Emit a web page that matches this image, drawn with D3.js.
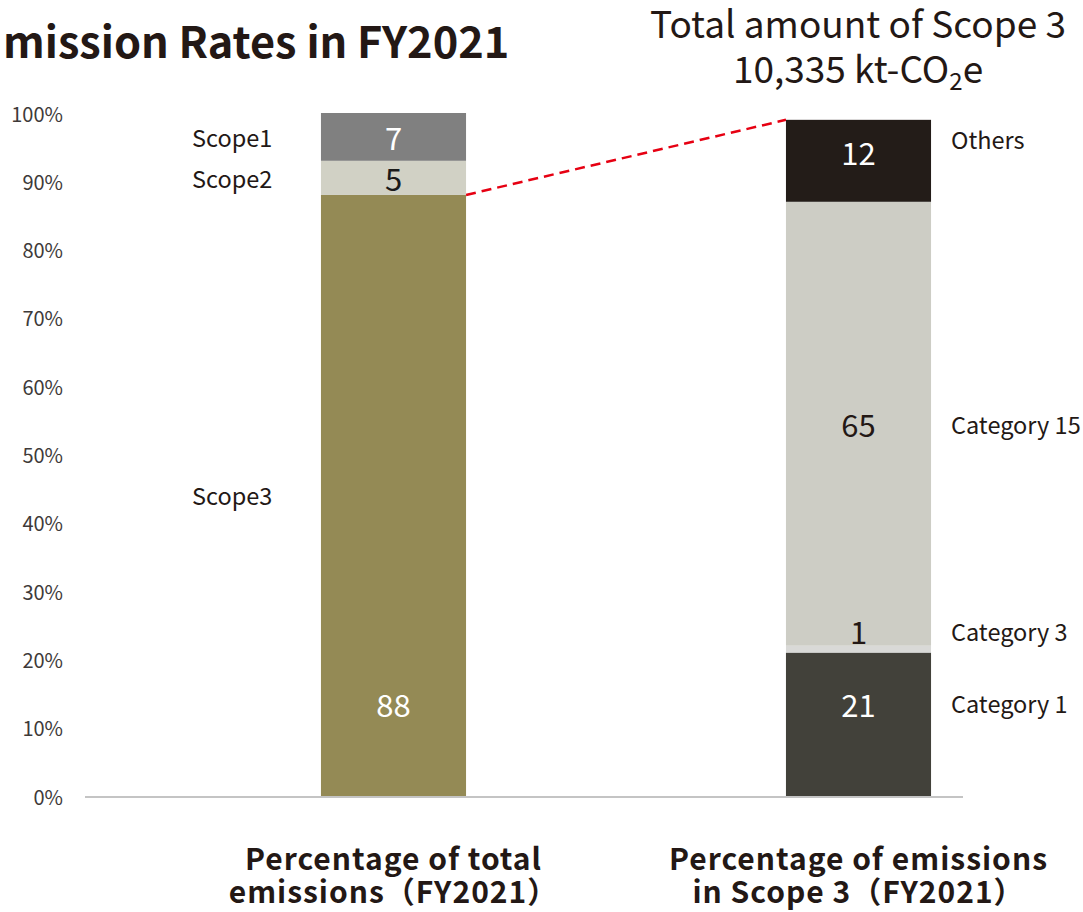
<!DOCTYPE html>
<html>
<head>
<meta charset="utf-8">
<script src="https://cdn.jsdelivr.net/npm/d3@7"></script>
<style>
  html, body { margin: 0; padding: 0; background: #fff; }
  svg { display: block; font-family: "Noto Sans CJK JP", "Noto Sans", sans-serif; }
</style>
</head>
<body>
<svg id="chart" width="1083" height="912"></svg>
<script>
// Emission shares, FY2021 (percent)
const bars = ["total", "scope3"];
const barTitles = [
  ["Percentage of total", "emissions（FY2021）"],
  ["Percentage of emissions", "in Scope 3（FY2021）"]
];
// stacked bottom-to-top
const totalNames  = ["Scope3", "Scope2", "Scope1"];
const totalValues = [88, 5, 7];
const scope3Names  = ["Category 1", "Category 3", "Category 15", "Others"];
const scope3Values = [21, 1, 65, 12];
const yTicks = [0, 10, 20, 30, 40, 50, 60, 70, 80, 90, 100];
const scope3Total = "10,335";

const colors = {
  "Scope1": "#808080", "Scope2": "#d1d1c5", "Scope3": "#948a55",
  "Category 1": "#42413a", "Category 3": "#d9d9d7", "Category 15": "#cdcdc5", "Others": "#231c18"
};
const valueColors = {
  "Scope1": "#ffffff", "Scope2": "#1a1a1a", "Scope3": "#ffffff",
  "Category 1": "#ffffff", "Category 3": "#231815", "Category 15": "#231815", "Others": "#ffffff"
};
// label anchors (percent) for segments whose labels sit off-centre
const labelAt = { "Scope3": 13.6, "Category 1": 13.6, "Category 3": 24.3, "Others": 94.4 };
const nameAt  = { "Category 1": 13.6, "Category 3": 24.2, "Others": 96.2 };

const ink = "#231815";
const svg = d3.select("#chart");

const y = d3.scaleLinear().domain([0, 100]).range([796, 113]);
const x = d3.scaleBand().domain(bars).range([161, 1091]).paddingInner(0.688).paddingOuter(0.344);

function stack(names, values) {
  let acc = 0;
  return names.map((n, i) => {
    const d = { name: n, value: values[i], y0: acc, y1: acc + values[i] };
    acc += values[i];
    return d;
  });
}
const stacks = { total: stack(totalNames, totalValues), scope3: stack(scope3Names, scope3Values) };

// title (left, clipped by the canvas edge)
svg.append("text")
  .attr("x", 3).attr("y", 58)
  .attr("font-size", 43.3).attr("font-weight", 700).attr("fill", ink)
  .text("mission Rates in FY2021");

// Scope 3 total heading
const head = svg.append("text")
  .attr("text-anchor", "middle").attr("font-size", 37).attr("fill", ink);
head.append("tspan").attr("x", 858).attr("y", 38).text("Total amount of Scope 3");
const l2 = head.append("tspan").attr("x", 858).attr("y", 83);
l2.text(scope3Total + " kt-CO");
head.append("tspan").attr("font-size", 24).attr("dy", 7).text("2");
head.append("tspan").attr("dy", -7).text("e");

// y axis tick labels
svg.append("g").selectAll("text").data(yTicks).join("text")
  .attr("x", 63).attr("y", d => y(d))
  .attr("text-anchor", "end").attr("dominant-baseline", "central")
  .attr("font-size", 20).attr("fill", "#3e3a39")
  .text(d => d + "%");

// connector between Scope3 and the Scope 3 breakdown
const s3top = stacks.total.find(d => d.name === "Scope3").y1;
const rTop = d3.sum(scope3Values);
svg.append("line")
  .attr("x1", x("total") + x.bandwidth()).attr("y1", y(s3top))
  .attr("x2", x("scope3")).attr("y2", y(rTop))
  .attr("stroke", "#e60012").attr("stroke-width", 2.5).attr("stroke-dasharray", "10,6");

// bars
bars.forEach(b => {
  const g = svg.append("g");
  g.selectAll("rect").data(stacks[b]).join("rect")
    .attr("x", x(b)).attr("width", x.bandwidth())
    .attr("y", d => y(d.y1)).attr("height", d => y(d.y0) - y(d.y1))
    .attr("fill", d => colors[d.name]);
  g.selectAll("text.val").data(stacks[b]).join("text").attr("class", "val")
    .attr("x", x(b) + x.bandwidth() / 2)
    .attr("y", d => y(labelAt[d.name] ?? (d.y0 + d.y1) / 2))
    .attr("text-anchor", "middle").attr("dominant-baseline", "central")
    .attr("font-size", 31).attr("fill", d => valueColors[d.name])
    .text(d => d.value);
});

// segment names
svg.append("g").selectAll("text").data(stacks.total).join("text")
  .attr("x", 192).attr("y", d => y(nameAt[d.name] ?? (d.y0 + d.y1) / 2))
  .attr("dominant-baseline", "central").attr("font-size", 23.5).attr("fill", ink)
  .text(d => d.name);
svg.append("g").selectAll("text").data(stacks.scope3).join("text")
  .attr("x", 951).attr("y", d => y(nameAt[d.name] ?? labelAt[d.name] ?? (d.y0 + d.y1) / 2))
  .attr("dominant-baseline", "central").attr("font-size", 23.5).attr("fill", ink)
  .text(d => d.name);

// baseline
svg.append("line")
  .attr("x1", 85).attr("x2", 963).attr("y1", y(0) + 1).attr("y2", y(0) + 1)
  .attr("stroke", "#c4c4c4").attr("stroke-width", 2);

// category titles under the bars
bars.forEach((b, i) => {
  const t = svg.append("text")
    .attr("text-anchor", "middle").attr("font-size", 30).attr("font-weight", 700)
    .attr("letter-spacing", 1).attr("fill", ink);
  barTitles[i].forEach((line, j) => {
    t.append("tspan").attr("x", x(b) + x.bandwidth() / 2).attr("y", 870 + j * 33).text(line);
  });
});
</script>
</body>
</html>
